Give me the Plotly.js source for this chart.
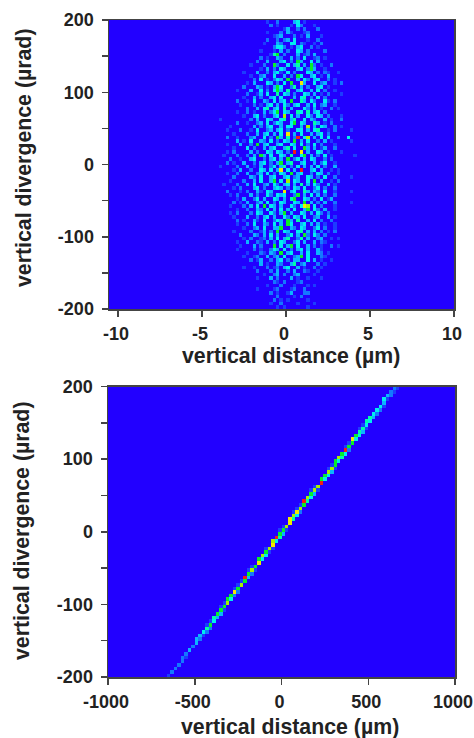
<!DOCTYPE html>
<html><head><meta charset="utf-8">
<script src="https://cdn.plot.ly/plotly-3.0.0.min.js"></script>
<style>html,body{margin:0;padding:0;background:#fff}#c{width:474px;height:738px}</style></head>
<body><div id="c"></div>
<script>
// Top panel: estimated counts (0-9), one string per row from y=+197.5 downward, columns start at x=-4.4, step 0.2
const topRows = [
".......... ......1..2 ....34.1.. .......... ......",
".......... .......2.1 ...1.42... 1......... ......",
".......... .......... .13..2.2.. .2........ ......",
".......... ......1... 2.31...12. .......... ......",
".......... ........12 3...2.1.3. ..1....... ......",
".......... ......2..2 .23.4...1. .2........ ......",
".......... .....1...3 2..44.21.. 1.2....... ......",
".......... ........24 42.1.34..2 .1........ ......",
".......... ....1...1. 3.2..43.2. ...2...... ......",
".......... .......156 .2...3.12. 3......... ......",
".......... ....2.1..3 2..3.2.4.. 12.1...... ......",
".......... ...2..3... 34.2.63..4 .3........ ......",
".......... .1...2..62 ..4.35.3.6 2.1..2.... ......",
".......... ....1.3.2. 43...34.26 3..1...... ......",
".........1 ...3..2.34 1.4.2...43 .2.21..1.. ......",
".......... .1..23..4. .3.2.64..3 4.1.3..... ......",
".......... ..2.4.1.24 3.6..3.42. 34..2.1... ......",
".......... 1.3...43.2 .4.6..83.. 4.23..1.2. ......",
".........2 ...32.1.36 4..25.3.2. .34.1..... ......",
".......1.. .3..4.2.46 3.5..34..3 .4.2..1... ......",
".......... 2..13.4..5 .43.2..43. 3.1.2...1. ......",
".........1 ..3.2..34. 4...3.45.2 .4.2...... ......",
".......2.. 1.4..32.4. 34.6..53.4 2..41.2... ......",
"........1. ..2.1.34.3 .42.34..3. 4.23..1... ......",
"..........  2..3.45.3 4.5.3...42 .3.1..2.1. ......",
".......1.. 2.1..3.246 .43..54.5. 34.2...... ......",
".........1 ..34.2..34 .7.4.3..42 .43.2...1. ......",
"..1....... .2.3..43.. 45.35..4.3 2..3.1..2. ......",
".......2.. 1..23.4.24 3..46.43.. 53.1.2.... ......",
".....1.... ..3.2.34.. 3.44..3.7. 3.43..2.1. ......",
"....1...2. .1.4..23.3 4.2..44.3. 45..1.2... .1....",
"......1... 2..3.34.3. 4.8.3.4..3 .34.2..... ......",
"....2..1.. .23..4.2.6 3.5.29.47. 3.4.4..2.. 4.....",
".......3.1 .4..32.4.2 .43.6.3.4. .2.3.1.... .1....",
"....1...3. .2.6.34..3 4..43.4.2. 4.2...1... ......",
"......1... 4.2..3.34. .35.4..63. 3.13..2... ......",
"....1.2... .3.2..43.4 3.2.9.8.3. .43.1...1. ......",
"...1...2.. 2.3.63.4.. 43.5..46.3 .2.4.1.... ..1...",
".....2..1. .34..2.34. 3.6.24.3.4 3..2.2.... ......",
"....2.1..3 ..2.34.2.3 6.35..34.. 3.24..1... ......",
"..1....2.. 3.1.3..24. 35.2.4.3.3 .4.2..3... ......",
"......1.3. .2..43.4.3 8.4.3.9..3 4.3..1.1.. ......",
"....1..2.. 3..23.4.2. 43.6.34..2 .43.2..1.. ......",
"......2... .32.4..34. .34.23..43 .2.4..2... .1....",
".....1...2 ..3.4..36. 4.7.43..4. 6.3..1.2.. ......",
"...1...2.. 3.4..23.42 .34.3.5.3. 42..3.1... ......",
"......1.2. ..34.2..34 3.2.43.4.. 24.2..2... ......",
"....2...1. 2..31.43.. .8.34..53. 32.4..1... .1....",
".....1.2.. .3.2..42.4 34..26.3.4 .3.2..2... ......",
".......1.3 ..24.3..43 .3.56..43. 2.4.13.... ......",
"......2.1. 3..23.4.2. 43..43.6.3 .2.3..2... .1....",
".....1...2 .3.4.6.43. 3..42.487. 4.2...1... ......",
".......1.. 2..32.4.3. 4.3.4..36. 42.3..1... ......",
".....1.2.. .2.43..42. 36.3..43.3 .42.2..... ......",
"......1... 3..2.34.3. .42.43.4.. 23..3.1... ......",
".......2.1 ..31.4..24 3.63.5..3. 4.2..2.... ......",
".......1.. 2.4..32.4. 3.64..34.3 .3.1..1... ......",
".........1 ..23.4..33 6..32.43.. 24.2..1... ......",
"......1... .2..13.2.6 .43..45.3. 3.2.1.2... ......",
"........2. ..32.3.4.3 ..24.3.62. 42.2...... ......",
".........1 .2..12.3.4 .35..25.3. .23..1.1.. ......",
".......1.. 3..21.3.2. 43..24.3.. 3.21...... ......",
"........1. ..3.2...6. 4.36.4..3. 2.1..2.1.. ......",
".......1.. ..2.1..243 .4.2.34.3. .31....... ......",
".......... 1...21.32. 6.34..3.4. .32.1..... ......",
".........1 ..12..3.23 .4..236.4. ..21...... ......",
".......... .2.13..2.3 4.2.33..4. 3.1..1.... ......",
".......... ....3.1..3 2..35.23.. .2.1...... ......",
".........1 ..1...2.12 .34..3.1.. 2.1....... ......",
".......... ...2...2.3 ..2.3..21. .1........ ......",
".......... .....1..23 .2..23.... 1......... ......",
".......... ...1...3.2 ...3.1..1. ..1....... ......",
".......... ........21 .2...12... .......... ......",
".......... ......1... 2...1...1. 1......... ......",
".......... ...1....12 ...12..2.. .......... ......",
".......... .......2.1 ..13...22. .......... ......",
".......... .........2 ....1.2... .......... ......",
".......... ........2. 1.1.....1. .......... ......",
".......... .......1.. 2....1.... 1......... ......",
".......... .........1 .1......1. .......... ......"
];
// Bottom panel: per row from y=-197.5 upward, first occupied column (x=-1000+20*col) and its 3 estimated counts
const lineStart = [16,17,18,19,20,20,21,22,23,24,24,25,26,27,28,29,29,30,31,32,33,33,34,35,36,37,38,38,39,40,41,42,42,43,44,45,46,46,47,48,49,50,51,51,52,53,54,55,55,56,57,58,59,60,60,61,62,63,64,64,65,66,67,68,69,69,70,71,72,73,73,74,75,76,77,78,78,79,80,81];
const lineVals = ["010","020","020","020","020","021","020","030","020","030","032","031","042","052","160","140","053","063","061","160","170","064","062","082","160","170","160","093","062","171","160","080","064","074","061","171","080","074","095","063","161","170","080","085","074","182","170","160","095","074","063","171","170","090","064","064","073","171","160","064","075","064","092","160","160","084","064","053","151","140","054","053","042","042","041","030","041","032","021","021"];
const topColsBefore = 31, topCols = 104, lineCols = 100;
const yMajor = [-200,-150,-100,-50,0,50,100,150,200];
const yLabels = ["-200","","-100","","0","","100","","200"];
const xTopTicks = [-10,-5,0,5,10];
const xBotTicks = [-1000,-500,0,500,1000];
const xTitle = "vertical distance (µm)";
const yTitle = "vertical divergence (µrad)";

const cs = [[0,"#2200ff"],[1/9,"#1c3cff"],[2/9,"#1478ff"],[3/9,"#0cb4ff"],[4/9,"#00eef0"],[5/9,"#00ffa8"],[6/9,"#08f028"],[7/9,"#a8f000"],[8/9,"#f4e800"],[1,"#f02010"]];

const zTop = topRows.map(r=>{
  const s=r.replace(/ /g,"");
  const row=new Array(topCols).fill(0);
  for(let i=0;i<s.length;i++) row[topColsBefore+i]= s[i]==="."?0:+s[i];
  return row;
});
const zBot = lineVals.map((v,i)=>{
  const row=new Array(lineCols).fill(0);
  for(let k=0;k<3;k++) row[lineStart[i]+k]=+v[k];
  return row;
});
const f={family:"Liberation Sans, Arial, sans-serif",size:18,color:"#222",weight:700};
const tf={family:"Liberation Sans, Arial, sans-serif",size:21.3,color:"#222",weight:700};
const H=738,W=474;
function xa(dom,range,ticks,anchor,shift){return{domain:[dom[0]/W,dom[1]/W],range:range,tickmode:"array",tickvals:ticks,ticktext:ticks.map(String),ticks:"outside",ticklen:6,tickwidth:1.5,tickcolor:"#444",showline:true,linecolor:"#444",linewidth:1.5,mirror:true,showgrid:false,zeroline:false,tickangle:0,tickfont:f,ticklabelstandoff:2,ticklabelshift:shift,ticklabeloverflow:"allow",anchor:anchor};}
function ya(top,bot,anchor){return{domain:[1-bot/H,1-top/H],range:[-200,200],tickmode:"array",tickvals:yMajor,ticktext:yLabels,ticks:"outside",ticklen:6,tickwidth:1.5,tickcolor:"#444",showline:true,linecolor:"#444",linewidth:1.5,mirror:true,showgrid:false,zeroline:false,tickfont:f,ticklabelstandoff:4,ticklabeloverflow:"allow",anchor:anchor};}
function ann(text,px,py,angle){return{text:text,xref:"paper",yref:"paper",x:px/W,y:1-py/H,xanchor:"center",yanchor:"middle",showarrow:false,textangle:angle,font:tf};}
Plotly.newPlot("c",[
 {type:"heatmap",z:zTop,x0:-10.5,dx:0.2,y0:197.5,dy:-5,zmin:0,zmax:9,colorscale:cs,showscale:false,xaxis:"x",yaxis:"y",hoverinfo:"skip"},
 {type:"heatmap",z:zBot,x0:-990,dx:20,y0:-197.5,dy:5,zmin:0,zmax:9,colorscale:cs,showscale:false,xaxis:"x2",yaxis:"y2",hoverinfo:"skip"}
],{
 width:W,height:H,margin:{l:0,r:0,t:0,b:0},paper_bgcolor:"#fff",plot_bgcolor:"#2200ff",showlegend:false,
 xaxis:xa([109,454],[-10.53,10],xTopTicks,"y",-2),
 yaxis:ya(20,309,"x"),
 xaxis2:xa([108,455],[-1000,1000],xBotTicks,"y2",-2),
 yaxis2:ya(386.5,677,"x2"),
 annotations:[ann(xTitle,291,356,0),ann(xTitle,290,727,0),ann(yTitle,24,158,-90),ann(yTitle,22,531,-90)]
},{displayModeBar:false,staticPlot:true});
</script></body></html>
